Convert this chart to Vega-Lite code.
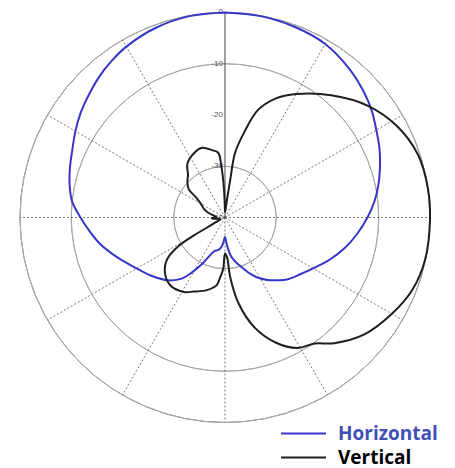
{
  "$schema": "https://vega.github.io/schema/vega-lite/v6.json",
  "width": 455,
  "height": 468,
  "autosize": {"type": "none"},
  "padding": 0,
  "background": "white",
  "config": {"view": {"stroke": null}, "axis": {"disable": true}},
  "datasets": {
    "curves": [
      {"series": "Horizontal", "angle": 0, "db": 0},
      {"series": "Horizontal", "angle": 10, "db": -0.1},
      {"series": "Horizontal", "angle": 20, "db": -0.4},
      {"series": "Horizontal", "angle": 30, "db": -0.9},
      {"series": "Horizontal", "angle": 40, "db": -2.2},
      {"series": "Horizontal", "angle": 48, "db": -3.5},
      {"series": "Horizontal", "angle": 54, "db": -4.6},
      {"series": "Horizontal", "angle": 60, "db": -5.9},
      {"series": "Horizontal", "angle": 66, "db": -7},
      {"series": "Horizontal", "angle": 72, "db": -8.2},
      {"series": "Horizontal", "angle": 78, "db": -9.4},
      {"series": "Horizontal", "angle": 84, "db": -10.7},
      {"series": "Horizontal", "angle": 90, "db": -12.2},
      {"series": "Horizontal", "angle": 97, "db": -14},
      {"series": "Horizontal", "angle": 104, "db": -15.8},
      {"series": "Horizontal", "angle": 112, "db": -18},
      {"series": "Horizontal", "angle": 119, "db": -19.9},
      {"series": "Horizontal", "angle": 127, "db": -21.6},
      {"series": "Horizontal", "angle": 135, "db": -22.9},
      {"series": "Horizontal", "angle": 140, "db": -24},
      {"series": "Horizontal", "angle": 146, "db": -25.3},
      {"series": "Horizontal", "angle": 152, "db": -26.8},
      {"series": "Horizontal", "angle": 156, "db": -28},
      {"series": "Horizontal", "angle": 163, "db": -30.2},
      {"series": "Horizontal", "angle": 167, "db": -31.2},
      {"series": "Horizontal", "angle": 171, "db": -32.3},
      {"series": "Horizontal", "angle": 176, "db": -34.6},
      {"series": "Horizontal", "angle": 180, "db": -36.2},
      {"series": "Horizontal", "angle": 184, "db": -35},
      {"series": "Horizontal", "angle": 188, "db": -34},
      {"series": "Horizontal", "angle": 192, "db": -33.5},
      {"series": "Horizontal", "angle": 197, "db": -33.2},
      {"series": "Horizontal", "angle": 201, "db": -32.3},
      {"series": "Horizontal", "angle": 206, "db": -30},
      {"series": "Horizontal", "angle": 211, "db": -27.5},
      {"series": "Horizontal", "angle": 215, "db": -25.5},
      {"series": "Horizontal", "angle": 222, "db": -23.5},
      {"series": "Horizontal", "angle": 232, "db": -21.6},
      {"series": "Horizontal", "angle": 240, "db": -20.1},
      {"series": "Horizontal", "angle": 250, "db": -17.5},
      {"series": "Horizontal", "angle": 258, "db": -15.1},
      {"series": "Horizontal", "angle": 264, "db": -13.5},
      {"series": "Horizontal", "angle": 270, "db": -11.8},
      {"series": "Horizontal", "angle": 276, "db": -10},
      {"series": "Horizontal", "angle": 282, "db": -9},
      {"series": "Horizontal", "angle": 288, "db": -8.2},
      {"series": "Horizontal", "angle": 294, "db": -7.4},
      {"series": "Horizontal", "angle": 300, "db": -6.3},
      {"series": "Horizontal", "angle": 306, "db": -5.2},
      {"series": "Horizontal", "angle": 311, "db": -4.4},
      {"series": "Horizontal", "angle": 318, "db": -3.2},
      {"series": "Horizontal", "angle": 324, "db": -2.3},
      {"series": "Horizontal", "angle": 330, "db": -1.5},
      {"series": "Horizontal", "angle": 340, "db": -0.6},
      {"series": "Horizontal", "angle": 350, "db": -0.1},
      {"series": "Horizontal", "angle": 360, "db": 0},

      {"series": "Vertical", "angle": 0, "db": -39},
      {"series": "Vertical", "angle": 4, "db": -38.5},
      {"series": "Vertical", "angle": 5.5, "db": -37.5},
      {"series": "Vertical", "angle": 7, "db": -35.5},
      {"series": "Vertical", "angle": 8, "db": -32},
      {"series": "Vertical", "angle": 8.8, "db": -27.3},
      {"series": "Vertical", "angle": 13, "db": -22.6},
      {"series": "Vertical", "angle": 17, "db": -18.1},
      {"series": "Vertical", "angle": 23, "db": -14.8},
      {"series": "Vertical", "angle": 30, "db": -12.2},
      {"series": "Vertical", "angle": 41, "db": -8.4},
      {"series": "Vertical", "angle": 52, "db": -4.6},
      {"series": "Vertical", "angle": 62, "db": -2},
      {"series": "Vertical", "angle": 72, "db": -0.4},
      {"series": "Vertical", "angle": 82, "db": 0},
      {"series": "Vertical", "angle": 91, "db": 0},
      {"series": "Vertical", "angle": 102, "db": -0.1},
      {"series": "Vertical", "angle": 111, "db": -0.8},
      {"series": "Vertical", "angle": 120, "db": -2.4},
      {"series": "Vertical", "angle": 130, "db": -4.5},
      {"series": "Vertical", "angle": 139, "db": -7.5},
      {"series": "Vertical", "angle": 144.5, "db": -9.8},
      {"series": "Vertical", "angle": 151, "db": -10.9},
      {"series": "Vertical", "angle": 158, "db": -13.7},
      {"series": "Vertical", "angle": 165, "db": -17.8},
      {"series": "Vertical", "angle": 171, "db": -23},
      {"series": "Vertical", "angle": 175, "db": -28.3},
      {"series": "Vertical", "angle": 177, "db": -32.2},
      {"series": "Vertical", "angle": 180, "db": -33},
      {"series": "Vertical", "angle": 182, "db": -30},
      {"series": "Vertical", "angle": 185, "db": -28},
      {"series": "Vertical", "angle": 187, "db": -26.7},
      {"series": "Vertical", "angle": 194, "db": -25.4},
      {"series": "Vertical", "angle": 203, "db": -24.3},
      {"series": "Vertical", "angle": 209, "db": -23.4},
      {"series": "Vertical", "angle": 219, "db": -23},
      {"series": "Vertical", "angle": 227, "db": -24},
      {"series": "Vertical", "angle": 234, "db": -26},
      {"series": "Vertical", "angle": 238.5, "db": -29.5},
      {"series": "Vertical", "angle": 240, "db": -33},
      {"series": "Vertical", "angle": 243, "db": -38.2},
      {"series": "Vertical", "angle": 250, "db": -39},
      {"series": "Vertical", "angle": 258, "db": -38.8},
      {"series": "Vertical", "angle": 265, "db": -37.6},
      {"series": "Vertical", "angle": 268, "db": -37.4},
      {"series": "Vertical", "angle": 272, "db": -38.3},
      {"series": "Vertical", "angle": 278, "db": -38},
      {"series": "Vertical", "angle": 285, "db": -36.8},
      {"series": "Vertical", "angle": 292, "db": -35.6},
      {"series": "Vertical", "angle": 300, "db": -34.5},
      {"series": "Vertical", "angle": 305, "db": -33},
      {"series": "Vertical", "angle": 308, "db": -31},
      {"series": "Vertical", "angle": 314, "db": -29.8},
      {"series": "Vertical", "angle": 319, "db": -29},
      {"series": "Vertical", "angle": 325, "db": -27.2},
      {"series": "Vertical", "angle": 335, "db": -26},
      {"series": "Vertical", "angle": 342, "db": -25.7},
      {"series": "Vertical", "angle": 349, "db": -26.6},
      {"series": "Vertical", "angle": 354, "db": -27.3},
      {"series": "Vertical", "angle": 356, "db": -30},
      {"series": "Vertical", "angle": 358, "db": -34.6},
      {"series": "Vertical", "angle": 360, "db": -39}
    ],
    "rings": [
      {"db": 0, "label": "0"},
      {"db": -10, "label": "-10"},
      {"db": -20, "label": "-20"},
      {"db": -30, "label": "-30"},
      {"db": -40, "label": "-40"}
    ],
    "spokes": [
      {"angle": 30}, {"angle": 60}, {"angle": 90}, {"angle": 120},
      {"angle": 150}, {"angle": 180}, {"angle": 210}, {"angle": 240},
      {"angle": 270}, {"angle": 300}, {"angle": 330}
    ],
    "axisline": [{"angle": 0}]
  },
  "layer": [
    {
      "data": {"name": "rings"},
      "transform": [{"filter": "datum.db > -40"}],
      "mark": {"type": "arc", "theta": 0, "theta2": 6.2832, "fill": null, "fillOpacity": 0, "stroke": "#a8a8a8", "strokeWidth": 1},
      "encoding": {
        "x": {"datum": 0, "type": "quantitative", "scale": {"domain": [-43.902, 44.878], "nice": false, "zero": false}},
        "y": {"datum": 0, "type": "quantitative", "scale": {"domain": [-48.878, 42.439], "nice": false, "zero": false}},
        "radius": {"field": "db", "type": "quantitative", "scale": {"type": "linear", "domain": [-40, 0], "range": [0, 205], "zero": false, "nice": false}, "legend": null}
      }
    },
    {
      "data": {"name": "spokes"},
      "transform": [
        {"calculate": "40*sin(datum.angle*PI/180)", "as": "x2"},
        {"calculate": "40*cos(datum.angle*PI/180)", "as": "y2"},
        {"calculate": "0", "as": "x0"}
      ],
      "mark": {"type": "rule", "stroke": "#555555", "strokeWidth": 0.8, "strokeDash": [2, 2]},
      "encoding": {
        "x": {"field": "x0", "type": "quantitative"},
        "y": {"field": "x0", "type": "quantitative"},
        "x2": {"field": "x2"},
        "y2": {"field": "y2"}
      }
    },
    {
      "data": {"name": "axisline"},
      "transform": [
        {"calculate": "40*sin(datum.angle*PI/180)", "as": "x2"},
        {"calculate": "40*cos(datum.angle*PI/180)", "as": "y2"},
        {"calculate": "0", "as": "x0"}
      ],
      "mark": {"type": "rule", "stroke": "#444444", "strokeWidth": 1},
      "encoding": {
        "x": {"field": "x0", "type": "quantitative"},
        "y": {"field": "x0", "type": "quantitative"},
        "x2": {"field": "x2"},
        "y2": {"field": "y2"}
      }
    },
    {
      "data": {"name": "rings"},
      "transform": [
        {"calculate": "datum.db + 40", "as": "ry"},
        {"calculate": "0", "as": "x0"}
      ],
      "mark": {"type": "text", "align": "right", "baseline": "middle", "dx": -2, "font": "Liberation Sans", "fontSize": 8, "color": "#555555"},
      "encoding": {
        "x": {"field": "x0", "type": "quantitative"},
        "y": {"field": "ry", "type": "quantitative"},
        "text": {"field": "label"}
      }
    },
    {
      "data": {"name": "curves"},
      "transform": [
        {"calculate": "(datum.db+40)*sin(datum.angle*PI/180)", "as": "px"},
        {"calculate": "(datum.db+40)*cos(datum.angle*PI/180)", "as": "py"}
      ],
      "mark": {"type": "line", "strokeWidth": 2, "interpolate": "catmull-rom"},
      "encoding": {
        "x": {"field": "px", "type": "quantitative"},
        "y": {"field": "py", "type": "quantitative"},
        "order": {"field": "angle", "type": "quantitative"},
        "color": {
          "field": "series", "type": "nominal",
          "scale": {"domain": ["Horizontal", "Vertical"], "range": ["#3636c8", "#1e1e1e"]},
          "legend": {
            "orient": "none", "legendX": 294, "legendY": 424, "title": null,
            "padding": 0, "rowPadding": 4,
            "symbolType": "M-4,0H4", "symbolSize": 126.5625, "symbolStrokeWidth": 2,
            "labelFont": "Open Sans", "labelFontWeight": "bold", "labelFontSize": 19,
            "labelOffset": 25,
            "labelColor": {"expr": "datum.label == 'Horizontal' ? '#4150b4' : '#000000'"}
          }
        }
      }
    }
  ]
}
